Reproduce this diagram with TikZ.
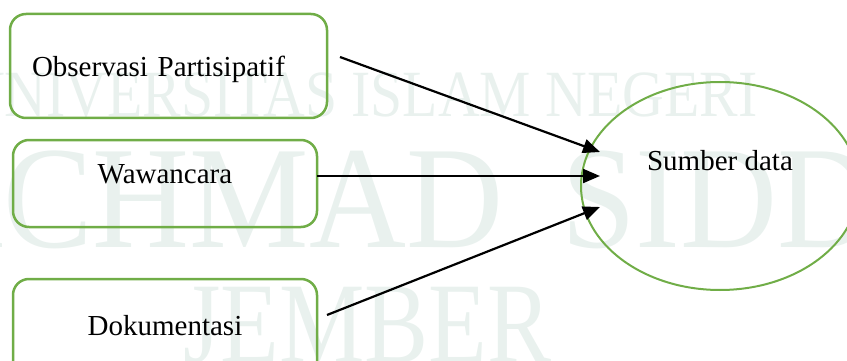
\documentclass[tikz,border=0pt]{standalone}
\usepackage{fontspec}
\setmainfont{Liberation Serif}
\usetikzlibrary{arrows.meta,shapes.geometric,calc}
\definecolor{boxgreen}{RGB}{112,173,71}
\definecolor{wmark}{RGB}{233,241,238}
\begin{document}
\begin{tikzpicture}[x=1pt,y=-1pt,
  wm/.style={inner sep=0pt, anchor=base west, text=wmark},
  srcbox/.style={draw=boxgreen, line width=2.5pt, rounded corners=16pt,
    inner sep=0pt, outer sep=0pt, font=\fontsize{29}{34}\selectfont},
  sinkoval/.style={ellipse, draw=boxgreen, line width=2pt, inner sep=0pt,
    outer sep=0pt, font=\fontsize{29}{34}\selectfont},
  link/.style={line width=2.2pt, -{Triangle[length=17pt,width=14pt]}}
]
\useasboundingbox (0,0) rectangle (847,361);
\clip (0,0) rectangle (847,361);

% faint background watermark
\node[wm, font=\fontsize{66}{70}\selectfont] (wm1) at (-37,117)
  {\scalebox{0.875}[1]{UNIVERSITAS ISLAM NEGERI}};
\node[wm, font=\fontsize{146}{150}\selectfont] (wm2) at (-94,247)
  {\scalebox{0.92}[1]{ACHMAD}};
\node[wm, font=\fontsize{146}{150}\selectfont] (wm3) at (561,247)
  {\scalebox{0.92}[1]{SIDDIQ}};
\node[wm, font=\fontsize{115}{120}\selectfont] (wm4) at (183,362)
  {\scalebox{0.835}[1]{JEMBER}};

% data collection techniques
\node[srcbox, minimum width=317pt, minimum height=104pt, text width=273pt,
  inner xsep=22pt, align=left, text height=22pt, text depth=0pt]
  (obs) at (168.5,66) {Observasi Partisipatif};
\node[srcbox, minimum width=304pt, minimum height=87pt,
  text height=0pt, text depth=0pt]
  (waw) at (165,183.5) {Wawancara};
\node[srcbox, minimum width=304pt, minimum height=112pt,
  text height=0pt, text depth=0pt]
  (dok) at (165,335) {Dokumentasi};

% data source
\node[sinkoval, minimum width=278pt, minimum height=208pt,
  text height=0pt, text depth=30pt]
  (src) at (720,186) {Sumber data};

% connector end points
\coordinate (o1) at ($(obs.east)+(13,-9)$);
\coordinate (o2) at ($(waw.east)+(0,-7.5)$);
\coordinate (o3) at ($(dok.east)+(10,-20)$);
\coordinate (t1) at ($(src.west)+(19,-34)$);
\coordinate (t2) at ($(src.west)+(19,-10)$);
\coordinate (t3) at ($(src.west)+(19,21)$);

\draw[link] (o1) -- (t1);
\draw[link] (o2) -- (t2);
\draw[link] (o3) -- (t3);
\end{tikzpicture}
\end{document}
